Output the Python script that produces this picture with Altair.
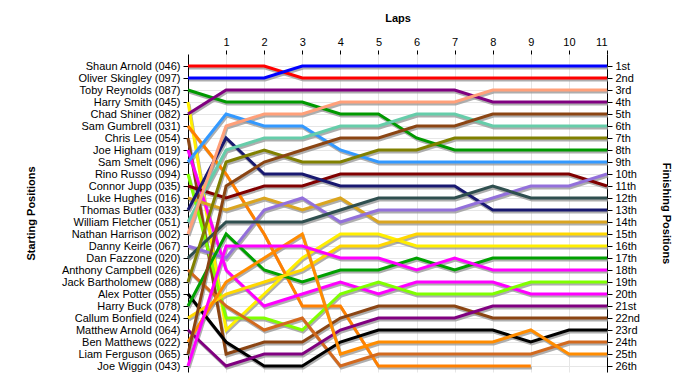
import altair as alt
import pandas as pd

# ---- data -------------------------------------------------------------
lap_ticks = list(range(1, 12))
finish_labels = ["1st", "2nd", "3rd", "4th", "5th", "6th", "7th", "8th", "9th",
                 "10th", "11th", "12th", "13th", "14th", "15th", "16th", "17th",
                 "18th", "19th", "20th", "21st", "22nd", "23rd", "24th", "25th", "26th"]

# position at lap 0, 1, 2, ... (lap 0 = starting grid)
shaun_arnold = [1, 1, 1, 2, 2, 2, 2, 2, 2, 2, 2, 2]
oliver_skingley = [2, 2, 2, 1, 1, 1, 1, 1, 1, 1, 1, 1]
toby_reynolds = [3, 4, 4, 4, 5, 5, 7, 8, 8, 8, 8, 8]
harry_smith = [4, 23, 20, 17, 15, 15, 16, 16, 16, 16, 16, 16]
chad_shiner = [5, 3, 3, 3, 3, 3, 3, 3, 4, 4, 4, 4]
sam_gumbrell = [6, 10, 15, 21, 21, 26, 26, 26, 26, 26]
chris_lee = [7, 25, 24, 24, 22, 21, 21, 21, 22, 22, 22, 22]
joe_higham = [8, 18, 21, 20, 19, 20, 19, 19, 19, 20, 20, 20]
sam_smelt = [9, 5, 6, 6, 8, 9, 9, 9, 9, 9, 9, 9]
rino_russo = [10, 22, 22, 23, 20, 19, 20, 20, 20, 19, 19, 19]
connor_jupp = [11, 12, 11, 11, 10, 10, 10, 10, 10, 10, 10, 11]
luke_hughes = [12, 13, 12, 13, 12, 14, 14, 14, 14, 14, 14, 14]
thomas_butler = [13, 7, 10, 10, 11, 11, 11, 11, 13, 13, 13, 13]
william_fletcher = [14, 8, 7, 7, 6, 6, 5, 5, 6, 6, 6, 6]
nathan_harrison = [15, 6, 5, 5, 4, 4, 4, 4, 3, 3, 3, 3]
danny_keirle = [16, 17, 13, 12, 14, 13, 13, 13, 12, 11, 11, 10]
dan_fazzone = [17, 14, 14, 14, 13, 12, 12, 12, 11, 12, 12, 12]
anthony_campbell = [18, 21, 23, 22, 26, 25, 25, 25, 25, 25, 24, 24]
jack_bartholomew = [19, 9, 8, 9, 9, 8, 8, 7, 7, 7, 7, 7]
alex_potter = [20, 24, 26, 26, 24, 23, 23, 23, 23, 24, 23, 23]
harry_buck = [21, 15, 18, 19, 18, 18, 17, 18, 17, 17, 17, 17]
callum_bonfield = [22, 20, 19, 18, 16, 16, 15, 15, 15, 15, 15, 15]
matthew_arnold = [23, 26, 25, 25, 23, 22, 22, 22, 21, 21, 21, 21]
ben_matthews = [24, 19, 17, 15, 25, 24, 24, 24, 24, 23, 25, 25]
liam_ferguson = [25, 11, 9, 8, 7, 7, 6, 6, 5, 5, 5, 5]
joe_wiggin = [26, 16, 16, 16, 17, 17, 18, 17, 18, 18, 18, 18]

drivers = [
    ("Shaun Arnold (046)", shaun_arnold),
    ("Oliver Skingley (097)", oliver_skingley),
    ("Toby Reynolds (087)", toby_reynolds),
    ("Harry Smith (045)", harry_smith),
    ("Chad Shiner (082)", chad_shiner),
    ("Sam Gumbrell (031)", sam_gumbrell),
    ("Chris Lee (054)", chris_lee),
    ("Joe Higham (019)", joe_higham),
    ("Sam Smelt (096)", sam_smelt),
    ("Rino Russo (094)", rino_russo),
    ("Connor Jupp (035)", connor_jupp),
    ("Luke Hughes (016)", luke_hughes),
    ("Thomas Butler (033)", thomas_butler),
    ("William Fletcher (051)", william_fletcher),
    ("Nathan Harrison (002)", nathan_harrison),
    ("Danny Keirle (067)", danny_keirle),
    ("Dan Fazzone (020)", dan_fazzone),
    ("Anthony Campbell (026)", anthony_campbell),
    ("Jack Bartholomew (088)", jack_bartholomew),
    ("Alex Potter (055)", alex_potter),
    ("Harry Buck (078)", harry_buck),
    ("Callum Bonfield (024)", callum_bonfield),
    ("Matthew Arnold (064)", matthew_arnold),
    ("Ben Matthews (022)", ben_matthews),
    ("Liam Ferguson (065)", liam_ferguson),
    ("Joe Wiggin (043)", joe_wiggin),
]

colors = ["#FF0000", "#0000FF", "#009900", "#FFEE00", "#800080", "#FF8000",
          "#8B4513", "#FF00FF", "#3399FF", "#80FF00", "#800000", "#DAA520",
          "#191970", "#66CDAA", "#FFA07A", "#9370DB", "#2F4F4F", "#D2691E",
          "#808000", "#000000", "#00A000", "#FFD700", "#800080", "#FF8C00",
          "#8B4513", "#FF00FF"]

rows = []
for name, pos in drivers:
    for lap, p in enumerate(pos):
        rows.append({"driver": name, "lap": lap, "pos": p})
df = pd.DataFrame(rows)

names = [n for n, _ in drivers]
start_names = [n for n, _ in sorted(drivers, key=lambda d: d[1][0])]

left_expr = "[" + ",".join("'" + n + "'" for n in start_names) + "][datum.value - 1]"
right_expr = "[" + ",".join("'" + s + "'" for s in finish_labels) + "][datum.value - 1]"
row_values = list(range(1, len(finish_labels) + 1))

FONT = "Liberation Sans"

xscale = alt.Scale(domain=[0, 11], nice=False, zero=False)
yscale = alt.Scale(domain=[0, 26.5], reverse=True, nice=False, zero=False)

x_axis = alt.Axis(orient="top", values=lap_ticks, title="Laps", grid=True,
                  domain=False, tickSize=4, labelPadding=3, labelAngle=0,
                  titleY=-31, titleBaseline="bottom")

y_left = alt.Axis(orient="left", values=row_values, labelExpr=left_expr,
                  title="Starting Positions", grid=True, tickSize=5,
                  labelPadding=3, titleX=-152, titleY=159,
                  titleAngle=270, titleBaseline="bottom")
y_right = alt.Axis(orient="right", values=row_values, labelExpr=right_expr,
                   title="Finishing Positions", grid=False, tickSize=5,
                   labelPadding=3, titleX=53, titleY=159,
                   titleAngle=90, titleBaseline="bottom")

base = alt.Chart(df)

shadow = base.mark_line(strokeWidth=3, color="#9a9a9a", xOffset=1, yOffset=2,
                        opacity=0.8).encode(
    x=alt.X("lap:Q", scale=xscale, axis=x_axis),
    y=alt.Y("pos:Q", scale=yscale, axis=y_left),
    detail="driver:N",
    order="lap:Q",
)

lines = base.mark_line(strokeWidth=3).encode(
    x=alt.X("lap:Q", scale=xscale, axis=x_axis),
    y=alt.Y("pos:Q", scale=yscale, axis=y_right),
    color=alt.Color("driver:N", scale=alt.Scale(domain=names, range=colors),
                    legend=None),
    order="lap:Q",
)

chart = alt.layer(shadow, lines).resolve_axis(y="independent").properties(
    width=419, height=318,
    autosize=alt.AutoSizeParams(type="none"),
    padding={"left": 180, "top": 46, "right": 85, "bottom": 8},
    background="white",
).configure_axis(
    labelFont=FONT, labelFontSize=11, labelColor="black",
    titleFont=FONT, titleFontSize=11, titleFontWeight="bold", titleColor="black",
    tickColor="black", domainColor="black", gridColor="#e6e6e6", gridWidth=1,
).configure_view(stroke=None)

chart.save("out.html", embed_options={"renderer": "svg", "actions": False})
